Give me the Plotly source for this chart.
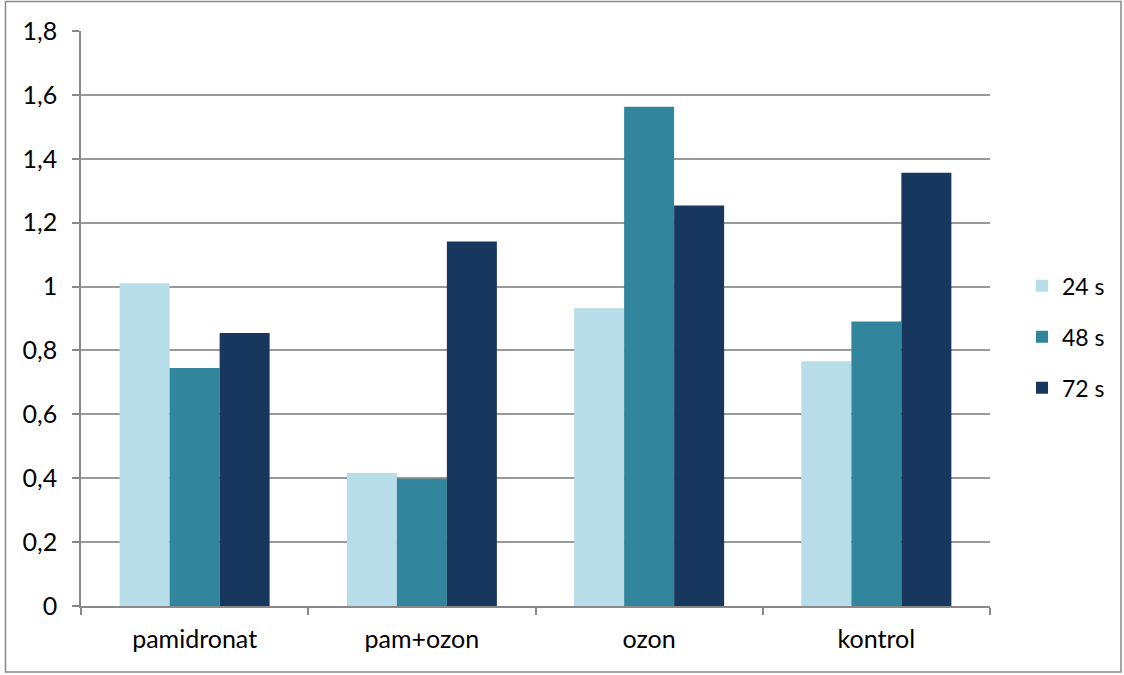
import plotly.graph_objects as go

categories = ["pamidronat", "pam+ozon", "ozon", "kontrol"]
series_names = ["24 s", "48 s", "72 s"]
values_24 = [1.01, 0.416, 0.932, 0.766]
values_48 = [0.745, 0.398, 1.563, 0.891]
values_72 = [0.855, 1.141, 1.254, 1.356]
colors = ["#B7DDE8", "#31859C", "#17375E"]

tick_vals = [0, 0.2, 0.4, 0.6, 0.8, 1.0, 1.2, 1.4, 1.6, 1.8]
tick_text = ["0", "0,2", "0,4", "0,6", "0,8", "1", "1,2", "1,4", "1,6", "1,8"]

font_family = "Lato, 'Open Sans', sans-serif"
font_size = 25

fig = go.Figure()
for i, (name, vals) in enumerate(zip(series_names, [values_24, values_48, values_72])):
    fig.add_trace(go.Bar(
        x=categories, y=vals, name=name,
        marker=dict(color=colors[i], line=dict(width=0)),
        legendgroup=name,
    ))

W, H = 1124, 675
ml, mr, mt, mb = 81, 134, 31, 69
pw, ph = W - ml - mr, H - mt - mb

def px_to_paper_x(px):
    return (px - ml) / pw

def px_to_paper_y(py):
    return (H - mb - py) / ph

fig.update_layout(
    width=W, height=H,
    margin=dict(l=ml, r=mr, t=mt, b=mb),
    plot_bgcolor="white", paper_bgcolor="white",
    barmode="group", bargap=0.34, bargroupgap=0,
    font=dict(family=font_family, size=font_size, color="#000000"),
    legend=dict(
        x=px_to_paper_x(1022), y=0.468, xanchor="left", yanchor="middle",
        font=dict(size=23), tracegroupgap=18, bgcolor="rgba(0,0,0,0)",
    ),
    showlegend=True,
    shapes=[dict(
        type="rect", xref="paper", yref="paper",
        x0=px_to_paper_x(5.5), x1=px_to_paper_x(1121),
        y0=px_to_paper_y(672), y1=px_to_paper_y(1.5),
        line=dict(color="#888888", width=1.5), fillcolor="rgba(0,0,0,0)",
        layer="below",
    )],
)

fig.update_xaxes(
    showline=True, linecolor="#888888", linewidth=1.5,
    ticks="outside", tickson="boundaries", ticklen=7, tickcolor="#888888", tickwidth=1.5,
    showgrid=False, tickfont=dict(size=font_size), ticklabelstandoff=10,
)
fig.update_yaxes(
    range=[0, 1.8], tickvals=tick_vals, ticktext=tick_text,
    showline=True, linecolor="#888888", linewidth=1.5,
    ticks="outside", ticklen=7, tickcolor="#888888", tickwidth=1.5,
    showgrid=True, gridcolor="#999999", gridwidth=1.5,
    zeroline=False, tickfont=dict(size=font_size), ticklabelstandoff=10,
)

fig.write_html("out.html")
